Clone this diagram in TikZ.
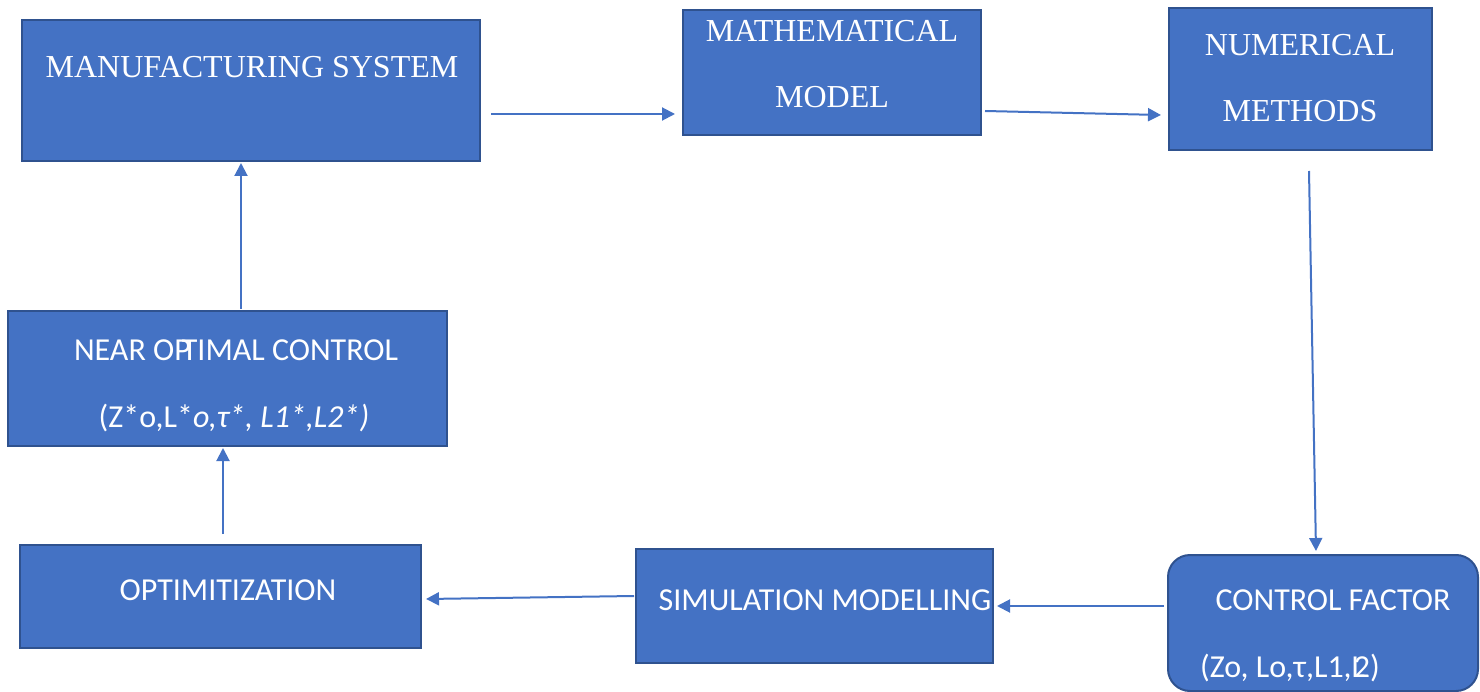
\documentclass[tikz,border=0pt]{standalone}
\usepackage{fontspec}
\setmainfont{Liberation Serif}
\newfontfamily\carlito{Carlito}
\usetikzlibrary{arrows.meta,calc}
\definecolor{boxfill}{HTML}{4472C4}
\definecolor{boxline}{HTML}{2F528F}
\begin{document}
\begin{tikzpicture}[x=1pt,y=-1pt,
  box/.style={draw=boxline,line width=2pt,fill=boxfill,inner sep=0pt,minimum width=#1},
  serif/.style={text=white,font=\fontsize{32}{36}\selectfont,inner sep=0pt,anchor=center},
  sans/.style={text=white,font=\carlito\fontsize{32}{36}\selectfont,inner sep=0pt,anchor=center},
  arr/.style={draw=boxfill,line width=2pt,-{Triangle[length=13pt,width=13pt]}}]
\useasboundingbox (0,0) rectangle (1480,692);
\node[box=458pt,minimum height=141pt] (ms) at (251,90.5) {};
\node[box=298pt,minimum height=125pt] (mm) at (832,72.5) {};
\node[box=263pt,minimum height=142pt] (nm) at (1300.5,79) {};
\node[box=439pt,minimum height=135pt] (noc) at (227.5,378.5) {};
\node[box=401pt,minimum height=103pt] (opt) at (220.5,596.5) {};
\node[box=357pt,minimum height=114pt] (sm) at (814.5,606) {};
\node[box=310pt,minimum height=136pt,rounded corners=22pt] (cf) at (1323,623) {};
% texts
\node[serif] (t1) at (252,67) {MANUFACTURING SYSTEM};
\node[serif] (t2) at (832,31) {MATHEMATICAL};
\node[serif] (t3) at (832,97) {MODEL};
\node[serif] (t4) at (1300,45) {NUMERICAL};
\node[serif] (t5) at (1300,111) {METHODS};
\node[sans] (t6) at (236,350) {NEAR OP\kern-0.28em TIMAL CONTROL};
\node[sans] (t7) at (234,418) {(Z*o,L*\itshape o,τ*, L1*,L2*)};
\node[sans] (t8) at (228,590) {OPTIMITIZATION};
\node[sans] (t9) at (825,600) {SIMULATION MODELLING};
\node[sans] (t10) at (1333,600) {CONTROL FACTOR};
\node[sans,anchor=west] (t11) at (1200,668) {(Zo, Lo,τ,L1,L\kern-0.35em 2)};
% connectors
\draw[arr] ($(ms.east)+(10,23.5)$) -- ($(mm.west)+(-7,41.5)$);
\draw[arr] ($(mm.east)+(3,38.5)$) -- ($(nm.west)+(-7,36)$);
\draw[arr] ($(nm.south)+(8.5,20)$) -- ($(cf.north)+(-7,-3)$);
\draw[arr] ($(cf.west)+(-3,-17)$) -- ($(sm.east)+(3,0)$);
\draw[arr] ($(sm.west)+(-1,-10)$) -- ($(opt.east)+(4,2.5)$);
\draw[arr] ($(opt.north)+(2.5,-10)$) -- ($(noc.south)+(-4.5,1)$);
\draw[arr] ($(noc.north)+(13.5,-1)$) -- ($(ms.south)+(-10,1)$);
\end{tikzpicture}
\end{document}
